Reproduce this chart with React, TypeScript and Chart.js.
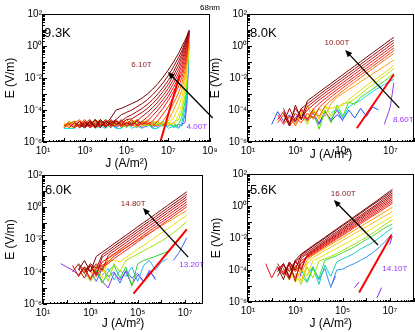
import React, { useEffect, useRef } from 'react';
import { Chart, registerables } from 'chart.js';
Chart.register(...registerables);

const FONT = '"Liberation Sans", Arial, Helvetica, sans-serif';
Chart.defaults.font.family = FONT;
type Row = (number | null)[];

// ---------------- Panel 1 : 9.3K (log10 J grid, log10 E rows) ----------------
const p1LogJ = [2.0, 2.25, 2.5, 2.75, 3.0, 3.25, 3.5, 3.75, 4.0, 4.25, 4.5, 4.75, 5.0, 5.25, 5.5, 5.75, 6.0, 6.25, 6.5, 6.75, 7.0, 7.25, 7.5, 7.65, 7.8, 7.9, 8.0];
const p1LogE: Row[] = [
  [null, null, null, null, -5.0, -4.7, -5.1, -4.6, -4.9, -4.5, -4.0, -3.9, -3.75, -3.6, -3.45, -3.25, -3.0, -2.7, -2.35, -1.95, -1.5, -1.0, -0.45, -0.05, 0.35, 0.65, 1.0],
  [null, null, null, -5.1, -4.8, -5.0, -4.6, -5.1, -4.7, -4.9, -4.6, -4.3, -4.15, -4.0, -3.8, -3.6, -3.35, -3.05, -2.7, -2.3, -1.85, -1.3, -0.7, -0.3, 0.2, 0.55, 0.97],
  [null, null, null, -4.9, -5.1, -4.7, -5.0, -4.8, -5.1, -4.6, -4.9, -4.7, -4.45, -4.3, -4.1, -3.9, -3.65, -3.35, -3.0, -2.6, -2.15, -1.6, -0.95, -0.5, 0.05, 0.45, 0.94],
  [null, null, -5.0, -4.7, -5.1, -4.9, -4.6, -5.0, -4.8, -5.1, -4.7, -4.9, -4.6, -4.55, -4.35, -4.15, -3.9, -3.6, -3.25, -2.85, -2.4, -1.85, -1.2, -0.7, -0.1, 0.35, 0.91],
  [null, null, -4.8, -5.1, -4.9, -4.6, -5.1, -4.7, -5.0, -4.8, -4.6, -5.0, -4.8, -4.9, -4.7, -4.4, -4.15, -3.85, -3.5, -3.1, -2.65, -2.1, -1.45, -0.95, -0.3, 0.2, 0.88],
  [null, -5.1, -4.8, -5.0, -4.7, -5.1, -4.9, -4.6, -5.0, -4.7, -4.9, -4.6, -5.0, -4.8, -4.9, -4.7, -4.45, -4.1, -3.75, -3.35, -2.9, -2.35, -1.7, -1.2, -0.5, 0.05, 0.85],
  [null, -4.9, -5.1, -4.7, -5.0, -4.8, -5.1, -4.9, -4.6, -5.0, -4.7, -4.9, -4.8, -5.0, -4.6, -4.9, -4.7, -4.35, -4.0, -3.6, -3.15, -2.6, -1.95, -1.45, -0.75, -0.1, 0.82],
  [-5.0, -4.8, -5.1, -4.9, -4.6, -5.0, -4.8, -5.1, -4.7, -4.9, -5.0, -4.7, -4.9, -4.6, -5.0, -4.8, -4.9, -4.7, -4.3, -3.9, -3.4, -2.85, -2.2, -1.7, -1.0, -0.3, 0.79],
  [-5.1, -4.9, -4.7, -5.0, -4.8, -5.1, -4.6, -4.9, -5.0, -4.8, -4.7, -5.1, -4.8, -5.0, -4.7, -4.9, -4.8, -5.0, -4.7, -4.25, -3.8, -3.2, -2.5, -2.0, -1.25, -0.5, 0.76],
  [-4.9, -5.1, -4.8, -4.6, -5.0, -4.8, -4.9, -5.1, -4.7, -4.9, -5.0, -4.8, -4.6, -4.9, -5.1, -4.8, -4.7, -4.9, -5.0, -4.7, -4.2, -3.6, -2.9, -2.35, -1.55, -0.75, 0.73],
  [-5.0, -4.7, -4.9, -5.1, -4.8, -4.6, -5.0, -4.9, -4.8, -5.1, -4.7, -4.9, -5.0, -4.8, -4.6, -5.0, -4.9, -4.8, -4.7, -5.0, -4.7, -4.0, -3.3, -2.75, -1.9, -1.0, 0.7],
  [-4.8, -5.0, -5.1, -4.7, -4.9, -5.0, -4.8, -4.6, -5.0, -4.9, -4.8, -5.0, -4.7, -4.9, -5.0, -4.8, -4.6, -4.9, -5.0, -4.8, -4.9, -4.5, -3.8, -3.2, -2.3, -1.35, 0.67],
  [-5.1, -4.8, -4.9, -5.0, -4.7, -4.9, -5.1, -4.8, -4.9, -4.7, -5.0, -4.8, -4.9, -4.6, -4.8, -5.0, -4.9, -4.7, -4.8, -5.0, -4.8, -4.9, -4.3, -3.65, -2.7, -1.7, 0.64],
  [-5.0, -4.9, -4.7, -4.8, -5.1, -4.8, -4.9, -5.0, -4.6, -4.8, -4.9, -5.0, -4.8, -4.7, -4.9, -4.8, -5.0, -4.8, -4.9, -4.7, -5.0, -4.8, -4.6, -4.05, -3.1, -2.05, 0.61],
  [-5.1, -4.7, -5.0, -4.9, -4.8, -5.0, -4.7, -4.9, -5.0, -4.8, -4.7, -4.9, -5.1, -4.8, -4.9, -4.7, -4.9, -5.0, -4.8, -4.9, -4.8, -5.0, -4.9, -4.45, -3.5, -2.4, 0.58],
  [-5.15, -5.15, -5.15, -4.9, -5.15, -4.8, -5.15, -5.0, -5.15, -4.9, -5.15, -5.15, -4.8, -5.15, -5.0, -5.15, -4.9, -5.15, -5.15, -4.8, -5.15, -5.0, -5.15, -4.8, -3.9, -2.75, 0.55],
  [null, null, -5.1, -4.9, -5.0, -4.8, -5.1, -4.7, -5.0, -4.9, -5.1, -4.8, -5.0, -4.9, -4.7, -5.0, -4.8, -5.1, -4.9, -5.0, -4.8, -5.1, -4.9, -5.0, -4.3, -3.1, 0.52],
  [null, null, null, -5.0, -4.8, -5.1, -4.9, -4.7, -5.0, -4.8, -5.1, -4.9, -5.0, -4.7, -4.9, -5.1, -5.0, -4.8, -5.1, -4.9, -5.0, -4.8, -5.1, -4.9, -4.8, -3.6, 0.5],
];
const p1Colors = ['#7a0000', '#8c0404', '#9e0808', '#b00c0c', '#c21010', '#d41414', '#e61818', '#f81c1c', '#ff3300', '#ff6a00', '#ffa000', '#ffd000', '#e8f000', '#90ee00', '#30e030', '#00e0e0', '#2080ff', '#9040ff'];
const p1RefLogJ = [6.62, 7.55];
const p1RefLogE = [-6.0, -1.8];

// ---------------- Panel 2 : 8.0K ----------------
const p2LogJ = [2.0, 2.25, 2.5, 2.75, 3.0, 3.25, 3.5, 3.75, 4.0, 4.25, 4.5, 4.75, 5.0, 5.25, 5.5, 5.75, 6.0, 6.25, 6.5, 6.75, 7.0, 7.15];
const p2LogE: Row[] = [
  [null, null, -4.2, -5.0, -3.7, -4.6, -3.43, -3.16, -2.88, -2.61, -2.34, -2.07, -1.79, -1.52, -1.25, -0.98, -0.7, -0.43, -0.16, 0.11, 0.39, 0.54],
  [null, null, -4.8, -3.9, -4.7, -3.9, -3.62, -3.33, -3.05, -2.77, -2.5, -2.23, -1.96, -1.69, -1.42, -1.15, -0.87, -0.6, -0.33, -0.06, 0.22, 0.37],
  [null, null, -3.9, -4.9, -4.2, -4.6, -3.8, -3.5, -3.21, -2.93, -2.66, -2.39, -2.12, -1.85, -1.58, -1.31, -1.04, -0.77, -0.5, -0.23, 0.05, 0.21],
  [null, -4.6, -4.1, -4.8, -3.9, -4.5, -4.0, -3.68, -3.38, -3.1, -2.83, -2.56, -2.29, -2.02, -1.75, -1.48, -1.21, -0.94, -0.67, -0.4, -0.12, 0.04],
  [null, -4.3, -4.9, -4.4, -4.7, -3.9, -4.6, -3.95, -3.6, -3.3, -3.0, -2.73, -2.46, -2.19, -1.92, -1.65, -1.38, -1.11, -0.84, -0.57, -0.29, -0.13],
  [null, -4.8, -4.3, -5.0, -4.5, -4.8, -4.2, -4.5, -3.85, -3.5, -3.18, -2.9, -2.62, -2.35, -2.08, -1.81, -1.54, -1.27, -1.0, -0.73, -0.45, -0.29],
  [null, null, -4.6, -4.4, -5.0, -4.3, -4.7, -4.1, -4.4, -3.75, -3.4, -3.1, -2.8, -2.52, -2.25, -1.98, -1.7, -1.43, -1.16, -0.89, -0.62, -0.46],
  [null, null, null, -4.5, -4.9, -4.2, -3.7, -4.6, -3.9, -4.4, -3.6, -3.2, -2.96, -2.72, -2.48, -2.23, -1.99, -1.75, -1.51, -1.27, -1.03, -0.88],
  [null, null, null, null, -4.8, -4.1, -4.5, -3.9, -4.6, -3.8, -3.9, -3.8, -3.7, -3.35, -3.05, -2.75, -2.48, -2.2, -1.95, -1.68, -1.4, -1.19],
  [null, null, null, null, null, -4.3, -4.9, -4.0, -4.5, -3.7, -4.4, -3.9, -3.6, -3.55, -3.3, -3.0, -2.7, -2.42, -2.15, -1.88, -1.6, -1.4],
  [null, null, null, null, null, null, -4.6, -4.1, -5.2, -4.0, -4.8, -3.7, -4.4, -3.5, -3.65, -3.2, -2.95, -2.7, -2.45, -2.2, -1.9, -1.7],
  [null, null, null, null, null, null, null, null, null, null, -4.2, -3.9, -4.5, -3.8, -3.55, -3.4, -3.1, -2.85, -2.62, -2.4, -2.2, -2.08],
  [-4.9, -4.1, -4.7, -4.3, -4.8, -4.2, -4.6, -4.4, -4.9, -4.1, -4.7, -4.3, -4.6, -4.0, -4.5, -3.9, -4.4, -3.8, -4.0, null, null, null],
  [null, null, null, null, -4.5, -4.0, -4.7, -4.2, -4.8, -4.1, -4.6, -4.0, -4.7, null, null, null, null, null, null, -4.9, -3.8, -2.3],
];
const p2Colors = ['#7a0000', '#a00808', '#c01010', '#e01414', '#ff1a1a', '#ff3a10', '#ff6a10', '#ffa000', '#f0d800', '#a8e800', '#40e000', '#00d8f0', '#2050ff', '#9040e0'];
const p2RefLogJ = [5.59, 7.15];
const p2RefLogE = [-5.14, -1.78];

// ---------------- Panel 3 : 6.0K ----------------
const p3LogJ = [1.75, 2.0, 2.25, 2.5, 2.75, 3.0, 3.25, 3.5, 3.75, 4.0, 4.25, 4.5, 4.75, 5.0, 5.25, 5.5, 5.75, 6.0, 6.25, 6.5, 6.75, 7.07];
const p3LogE: Row[] = [
  [null, null, null, -3.9, -3.3, -4.0, -3.05, -2.79, -2.53, -2.26, -2.0, -1.74, -1.48, -1.21, -0.95, -0.69, -0.43, -0.16, 0.1, 0.36, 0.62, 0.96],
  [null, null, null, -3.6, -4.1, -3.5, -3.8, -2.95, -2.69, -2.42, -2.16, -1.9, -1.64, -1.37, -1.11, -0.85, -0.59, -0.32, -0.06, 0.2, 0.46, 0.8],
  [null, null, -4.0, -3.5, -3.9, -3.6, -4.2, -3.1, -2.84, -2.57, -2.31, -2.05, -1.79, -1.52, -1.26, -1.0, -0.74, -0.47, -0.21, 0.05, 0.31, 0.65],
  [null, null, -3.6, -4.3, -3.7, -4.0, -3.5, -3.9, -2.99, -2.72, -2.46, -2.2, -1.94, -1.67, -1.41, -1.15, -0.89, -0.62, -0.36, -0.1, 0.16, 0.5],
  [null, null, null, -3.8, -4.4, -3.6, -4.1, -3.4, -3.15, -2.88, -2.62, -2.36, -2.1, -1.83, -1.57, -1.31, -1.05, -0.78, -0.52, -0.26, 0.0, 0.34],
  [null, null, null, -4.2, -3.7, -4.5, -3.8, -3.6, -3.4, -3.04, -2.78, -2.52, -2.26, -1.99, -1.73, -1.47, -1.21, -0.94, -0.68, -0.42, -0.16, 0.18],
  [null, null, null, null, -4.0, -3.6, -4.3, -3.7, -3.5, -3.19, -2.93, -2.67, -2.41, -2.14, -1.88, -1.62, -1.36, -1.09, -0.83, -0.57, -0.31, 0.03],
  [null, null, null, null, -3.9, -4.4, -3.6, -4.0, -3.2, -2.93, -2.71, -2.49, -2.27, -2.04, -1.82, -1.6, -1.38, -1.15, -0.93, -0.71, -0.48, -0.2],
  [null, null, null, null, null, -4.1, -3.7, -4.4, -3.3, -3.3, -3.38, -3.12, -2.87, -2.61, -2.36, -2.1, -1.85, -1.59, -1.34, -1.08, -0.83, -0.5],
  [null, null, null, -4.3, -3.8, -4.6, -4.2, -3.6, -4.6, -3.5, -4.0, -3.3, -3.1, -2.9, -2.7, -2.5, -2.3, -2.1, -1.85, -1.6, -1.3, -0.9],
  [null, null, null, null, -4.1, -4.5, -3.9, -4.7, -4.0, -3.6, -4.4, -3.7, -4.9, -3.5, -3.3, -3.17, -3.05, -2.9, -2.75, -2.4, -2.0, -1.35],
  [null, null, null, null, null, null, null, -4.2, -3.8, -4.5, -3.9, -4.3, -3.7, -4.6, -3.6, -3.3, -3.9, -3.4, -3.2, null, null, null],
  [null, null, null, null, null, -3.9, -4.6, -3.8, -4.3, -4.0, -4.7, -3.9, -4.4, -4.1, -4.6, -3.9, -4.5, null, null, -3.3, -2.8, -1.9],
  [-3.5, -3.7, -3.9, -4.2, -3.8, -4.4, -3.9, -4.6, -5.0, -4.1, -4.5, -4.0, -4.8, -4.2, -4.6, -4.0, -4.4, null, null, null, null, null],
];
const p3Colors = ['#7a0000', '#960404', '#b20808', '#cc0c0c', '#e01010', '#f01414', '#ff2020', '#ff9000', '#f0e000', '#a0e000', '#30d030', '#30b0f0', '#4060ff', '#9030e0'];
const p3RefLogJ = [4.82, 7.07];
const p3RefLogE = [-5.35, -1.37];

// ---------------- Panel 4 : 5.6K ----------------
const p4LogJ = [1.75, 2.0, 2.25, 2.5, 2.75, 3.0, 3.25, 3.5, 3.75, 4.0, 4.25, 4.5, 4.75, 5.0, 5.25, 5.5, 5.75, 6.0, 6.25, 6.5, 6.75, 7.11];
const p4LogE: Row[] = [
  [null, null, -4.1, -3.6, -4.5, -3.4, -3.0, -2.74, -2.48, -2.22, -1.96, -1.7, -1.44, -1.18, -0.92, -0.66, -0.4, -0.14, 0.12, 0.38, 0.66, 1.04],
  [null, null, -3.8, -4.6, -3.5, -4.0, -3.05, -2.79, -2.53, -2.27, -2.02, -1.76, -1.5, -1.24, -0.99, -0.73, -0.47, -0.21, 0.05, 0.3, 0.56, 0.93],
  [null, null, -4.4, -3.7, -4.1, -3.5, -3.15, -2.89, -2.64, -2.38, -2.13, -1.87, -1.62, -1.36, -1.11, -0.85, -0.6, -0.34, -0.09, 0.17, 0.45, 0.82],
  [null, null, null, -4.3, -3.6, -4.7, -3.25, -2.99, -2.74, -2.48, -2.22, -1.97, -1.71, -1.45, -1.2, -0.94, -0.69, -0.43, -0.17, 0.08, 0.34, 0.71],
  [null, null, -3.6, -4.2, -3.9, -3.5, -3.9, -3.05, -2.8, -2.54, -2.29, -2.04, -1.79, -1.53, -1.28, -1.03, -0.77, -0.52, -0.27, -0.02, 0.24, 0.6],
  [null, null, null, -3.9, -4.6, -3.4, -4.0, -3.1, -2.85, -2.6, -2.35, -2.1, -1.86, -1.61, -1.36, -1.11, -0.86, -0.61, -0.36, -0.11, 0.13, 0.49],
  [-3.6, -4.5, -3.8, -4.3, -3.5, -4.1, -3.6, -3.15, -2.91, -2.66, -2.42, -2.17, -1.93, -1.68, -1.44, -1.2, -0.95, -0.71, -0.46, -0.22, 0.03, 0.38],
  [null, null, -4.0, -3.6, -4.4, -3.8, -3.4, -3.2, -2.96, -2.72, -2.48, -2.24, -2.0, -1.76, -1.52, -1.28, -1.04, -0.8, -0.56, -0.32, -0.08, 0.27],
  [null, null, null, -4.1, -3.7, -4.5, -3.6, -3.25, -3.02, -2.78, -2.54, -2.31, -2.07, -1.84, -1.6, -1.36, -1.13, -0.89, -0.65, -0.42, -0.18, 0.16],
  [null, null, null, -4.0, -4.6, -3.7, -4.2, -3.4, -3.08, -2.86, -2.63, -2.41, -2.19, -1.97, -1.74, -1.52, -1.3, -1.07, -0.85, -0.63, -0.4, -0.08],
  [null, null, null, null, -4.3, -3.8, -4.7, -3.6, -3.22, -3.01, -2.79, -2.58, -2.37, -2.15, -1.94, -1.72, -1.51, -1.3, -1.08, -0.87, -0.66, -0.35],
  [null, null, null, null, -4.0, -4.8, -3.9, -4.4, -3.4, -3.25, -3.05, -2.85, -2.65, -2.45, -2.25, -2.05, -1.83, -1.62, -1.4, -1.18, -0.95, -0.65],
  [null, null, null, null, null, -4.2, -4.9, -3.8, -4.5, -3.45, -3.3, -3.15, -2.98, -2.78, -2.58, -2.38, -2.17, -1.95, -1.72, -1.47, -1.2, -0.85],
  [null, null, null, null, null, null, -4.3, -4.8, -3.9, -4.5, -3.4, -3.25, -3.1, -2.92, -2.75, -2.55, -2.33, -2.1, -1.9, -1.65, -1.4, -1.12],
  [null, null, null, null, null, null, -4.0, -4.7, -3.8, -4.9, -3.7, -4.4, -3.5, -3.3, -3.15, -2.95, -2.7, -2.5, -2.3, -2.05, -1.75, -1.35],
  [null, null, null, null, null, null, null, -4.3, -3.8, -4.6, -3.9, -5.1, -4.0, -3.95, -3.75, -3.6, -3.4, -3.2, -2.95, -2.64, -2.3, -1.7],
];
const p4Colors = ['#7a0000', '#8c0404', '#9e0808', '#b00c0c', '#c21010', '#d41414', '#e61818', '#f81c1c', '#ff3010', '#ff9800', '#ffc000', '#e8e800', '#a8e000', '#40d840', '#10d0c0', '#3090f0'];
const p4PurpleLogJ = [3.2, 3.3, 3.9, 4.55, 4.7, 5.1, 5.5, 5.7, 6.1, 6.45, 6.65, 6.8, 7.0, 7.1];
const p4PurpleLogE: Row = [-4.4, -3.9, null, -4.9, -4.4, null, -5.1, -4.75, null, -5.75, -5.1, null, -2.4, -1.9];
const p4RefLogJ = [5.7, 7.07];
const p4RefLogE = [-5.4, -1.81];

// ---------------- helpers ----------------
const SUP: Record<string, string> = { '-': '⁻', '0': '⁰', '1': '¹', '2': '²', '3': '³', '4': '⁴', '5': '⁵', '6': '⁶', '7': '⁷', '8': '⁸', '9': '⁹' };
const pow10Label = (e: number) => '10' + String(e).split('').map((c) => SUP[c] ?? c).join('');

type Series = { logJ: number[]; logE: Row; color: string };
type Label = { text: string; at: [number, number]; color: string; size: number; align?: 'left' | 'center' };
type Spec = {
  series: Series[];
  refLogJ: number[];
  refLogE: number[];
  xMaxExp: number;
  xLabelExps: number[];
  arrow: { from: [number, number]; to: [number, number] };
  labels: Label[];
  box: { padL: number; padR: number; padT: number; padB: number; yW: number; xH: number };
};

const rows = (logJ: number[], logE: Row[], colors: string[]): Series[] =>
  logE.map((r, i) => ({ logJ, logE: r, color: colors[i] }));

const DARK = '#8b1a1a';
const VIOLET = '#9933ff';

const specs: Spec[] = [
  {
    series: rows(p1LogJ, p1LogE, p1Colors),
    refLogJ: p1RefLogJ, refLogE: p1RefLogE,
    xMaxExp: 9, xLabelExps: [1, 3, 5, 7, 9],
    arrow: { from: [9.13, -4.5], to: [6.98, -1.62] },
    labels: [
      { text: '9.3K', at: [1.05, 0.81], color: '#000', size: 13, align: 'left' },
      { text: '6.10T', at: [5.72, -1.19], color: DARK, size: 8 },
      { text: '4.00T', at: [8.37, -5.06], color: VIOLET, size: 8 },
    ],
    box: { padL: 3, padR: 205, padT: 14, padB: 160, yW: 40, xH: 30 },
  },
  {
    series: rows(p2LogJ, p2LogE, p2Colors),
    refLogJ: p2RefLogJ, refLogE: p2RefLogE,
    xMaxExp: 8, xLabelExps: [1, 3, 5, 7],
    arrow: { from: [7.38, -3.87], to: [5.1, -0.25] },
    labels: [
      { text: '8.0K', at: [1.08, 0.81], color: '#000', size: 13, align: 'left' },
      { text: '10.00T', at: [4.75, 0.17], color: DARK, size: 8 },
      { text: '8.60T', at: [7.55, -4.62], color: VIOLET, size: 8 },
    ],
    box: { padL: 208, padR: 1, padT: 14, padB: 169, yW: 40, xH: 21 },
  },
  {
    series: rows(p3LogJ, p3LogE, p3Colors),
    refLogJ: p3RefLogJ, refLogE: p3RefLogE,
    xMaxExp: 7.756, xLabelExps: [1, 3, 5, 7],
    arrow: { from: [7.13, -3.09], to: [5.22, -0.05] },
    labels: [
      { text: '6.0K', at: [1.08, 1.07], color: '#000', size: 13, align: 'left' },
      { text: '14.80T', at: [4.81, 0.24], color: DARK, size: 8 },
      { text: '13.20T', at: [7.28, -3.59], color: VIOLET, size: 8 },
    ],
    box: { padL: 3, padR: 212, padT: 175, padB: 0, yW: 40, xH: 28 },
  },
  {
    series: [...rows(p4LogJ, p4LogE, p4Colors), { logJ: p4PurpleLogJ, logE: p4PurpleLogE, color: '#8030e0' }],
    refLogJ: p4RefLogJ, refLogE: p4RefLogE,
    xMaxExp: 8, xLabelExps: [1, 3, 5, 7],
    arrow: { from: [6.5, -2.44], to: [4.63, 0.37] },
    labels: [
      { text: '5.6K', at: [1.08, 0.96], color: '#000', size: 13, align: 'left' },
      { text: '16.00T', at: [5.03, 0.79], color: DARK, size: 8 },
      { text: '14.10T', at: [7.21, -3.9], color: VIOLET, size: 8 },
    ],
    box: { padL: 209, padR: 1.5, padT: 174, padB: 0, yW: 39, xH: 30 },
  },
];

const Y_LABEL_EXPS = [-6, -4, -2, 0, 2];

const decor = (spec: Spec) => ({
  id: 'decor',
  afterDraw(chart: any) {
    const { ctx, chartArea: a, scales } = chart;
    const xs = scales.x, ys = scales.y;
    ctx.save();
    ctx.strokeStyle = '#000';
    ctx.lineWidth = 1;
    ctx.strokeRect(Math.round(a.left) - 0.5, Math.round(a.top) + 0.5, Math.round(a.right - a.left), Math.round(a.bottom - a.top) - 1);
    ctx.beginPath();
    for (let e = 1; e <= Math.ceil(spec.xMaxExp); e++) {
      for (let m = 1; m <= 9; m++) {
        const v = m * 10 ** e;
        if (v > 10 ** spec.xMaxExp * 1.0001) continue;
        const px = Math.round(xs.getPixelForValue(v)) + 0.5;
        const len = m === 1 ? 4 : 2;
        ctx.moveTo(px, a.bottom);
        ctx.lineTo(px, a.bottom - len);
      }
    }
    for (let e = -6; e <= 2; e++) {
      for (let m = 1; m <= 9; m++) {
        const v = m * 10 ** e;
        if (v > 100.01) continue;
        const py = Math.round(ys.getPixelForValue(v)) + 0.5;
        const len = m === 1 ? 4 : 2;
        ctx.moveTo(a.left, py);
        ctx.lineTo(a.left + len, py);
      }
    }
    ctx.stroke();
    // arrow
    const fx = xs.getPixelForValue(10 ** spec.arrow.from[0]);
    const fy = ys.getPixelForValue(10 ** spec.arrow.from[1]);
    const tx = xs.getPixelForValue(10 ** spec.arrow.to[0]);
    const ty = ys.getPixelForValue(10 ** spec.arrow.to[1]);
    const ang = Math.atan2(ty - fy, tx - fx);
    const L = 7, W = 3;
    ctx.lineWidth = 1.3;
    ctx.beginPath();
    ctx.moveTo(fx, fy);
    ctx.lineTo(tx - L * 0.8 * Math.cos(ang), ty - L * 0.8 * Math.sin(ang));
    ctx.stroke();
    ctx.fillStyle = '#000';
    ctx.beginPath();
    ctx.moveTo(tx, ty);
    ctx.lineTo(tx - L * Math.cos(ang) + W * Math.sin(ang), ty - L * Math.sin(ang) - W * Math.cos(ang));
    ctx.lineTo(tx - L * Math.cos(ang) - W * Math.sin(ang), ty - L * Math.sin(ang) + W * Math.cos(ang));
    ctx.closePath();
    ctx.fill();
    // labels
    ctx.textBaseline = 'middle';
    for (const lb of spec.labels) {
      ctx.font = `${lb.size}px ${FONT}`;
      ctx.fillStyle = lb.color;
      ctx.textAlign = lb.align ?? 'center';
      ctx.fillText(lb.text, xs.getPixelForValue(10 ** lb.at[0]), ys.getPixelForValue(10 ** lb.at[1]));
    }
    ctx.restore();
  },
});

function Panel({ spec }: { spec: Spec }) {
  const ref = useRef<HTMLCanvasElement>(null);
  useEffect(() => {
    const canvas = ref.current;
    if (!canvas) return;
    const datasets: any[] = [
      {
        data: spec.refLogJ.map((j, i) => ({ x: 10 ** j, y: 10 ** spec.refLogE[i] })),
        borderColor: '#ff0000', borderWidth: 2, showLine: true, pointRadius: 0, pointHoverRadius: 0, fill: false,
      },
      ...spec.series.map((s) => ({
        data: s.logJ.map((j, i) => ({ x: 10 ** j, y: s.logE[i] == null ? null : 10 ** (s.logE[i] as number) })),
        borderColor: s.color, borderWidth: 1, showLine: true, pointRadius: 0, pointHoverRadius: 0,
        spanGaps: false, fill: false, tension: 0,
      })),
    ];
    const b = spec.box;
    const chart = new Chart(canvas, {
      type: 'scatter',
      data: { datasets },
      options: {
        responsive: false,
        animation: false,
        devicePixelRatio: 1,
        events: [],
        layout: { padding: { left: b.padL, right: b.padR, top: b.padT, bottom: b.padB } },
        plugins: { legend: { display: false }, tooltip: { enabled: false } },
        scales: {
          x: {
            type: 'logarithmic', position: 'bottom',
            min: 10, max: 10 ** spec.xMaxExp,
            grid: { display: false, drawTicks: false, tickLength: 0 },
            border: { display: false },
            afterBuildTicks: (s: any) => { s.ticks = spec.xLabelExps.map((e) => ({ value: 10 ** e })); },
            afterFit: (s: any) => { s.height = b.xH; },
            ticks: {
              autoSkip: false, maxRotation: 0, minRotation: 0, padding: 3, color: '#000',
              font: { size: 10, family: FONT },
              callback: (v: any) => pow10Label(Math.round(Math.log10(Number(v)))),
            },
            title: { display: true, text: 'J (A/m²)', color: '#000', font: { size: 12, family: FONT }, padding: { top: 0, bottom: 1 } },
          },
          y: {
            type: 'logarithmic', position: 'left',
            min: 1e-6, max: 1e2,
            grid: { display: false, drawTicks: false, tickLength: 0 },
            border: { display: false },
            afterBuildTicks: (s: any) => { s.ticks = Y_LABEL_EXPS.map((e) => ({ value: 10 ** e })); },
            afterFit: (s: any) => { s.width = b.yW; },
            ticks: {
              autoSkip: false, padding: 1, color: '#000',
              font: { size: 10, family: FONT },
              callback: (v: any) => pow10Label(Math.round(Math.log10(Number(v)))),
            },
            title: { display: true, text: 'E (V/m)', color: '#000', font: { size: 12, family: FONT }, padding: { top: 0, bottom: 0 } },
          },
        },
      } as any,
      plugins: [decor(spec)],
    });
    return () => chart.destroy();
  }, [spec]);
  return (
    <canvas
      ref={ref}
      width={415}
      height={332}
      style={{ position: 'absolute', left: 0, top: 0, width: 415, height: 332 }}
    />
  );
}

export default function App() {
  return (
    <div style={{ position: 'fixed', left: 0, top: 0, width: 415, height: 332, background: '#fff', overflow: 'hidden' }}>
      {specs.map((s, i) => (
        <Panel key={i} spec={s} />
      ))}
      <div
        style={{
          position: 'absolute', left: 180, top: 3, width: 60, textAlign: 'center',
          font: `8px ${FONT}`, lineHeight: '10px', color: '#000',
        }}
      >
        68nm
      </div>
    </div>
  );
}
